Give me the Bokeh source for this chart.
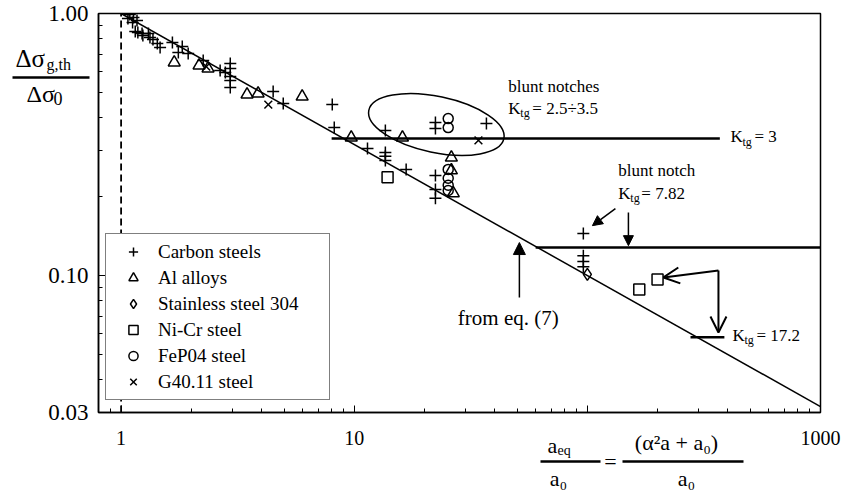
import math
from bokeh.plotting import figure
from bokeh.models import (Range1d, FixedTicker, NumeralTickFormatter, Legend, LegendItem,
                          Arrow, NormalHead, OpenHead, Label)
from bokeh.core.properties import value
from bokeh.embed import file_html
from bokeh.resources import INLINE

# ---------------- data ----------------
carbon_x = [1.09, 1.13, 1.07, 1.17, 1.12, 1.15, 1.18, 1.23, 1.24, 1.31, 1.33, 1.37, 1.43, 1.47,
            1.66, 1.83, 1.76, 1.94, 2.25, 2.66, 2.80, 2.94, 2.94, 2.94, 2.94, 2.94, 4.49, 4.96,
            8.05, 8.21, 11.4, 13.6, 13.6, 13.6, 13.6, 16.7, 22.3, 22.3, 36.9, 22.3, 22.3, 22.3,
            96.1, 96.1, 96.1, 96.1]
carbon_y = [0.991, 0.965, 0.957, 0.940, 0.924, 0.854, 0.846, 0.839, 0.824, 0.839, 0.810, 0.796,
            0.768, 0.742, 0.775, 0.748, 0.710, 0.704, 0.662, 0.606, 0.596, 0.645, 0.617, 0.575,
            0.555, 0.522, 0.504, 0.453, 0.449, 0.367, 0.305, 0.358, 0.295, 0.285, 0.275, 0.254,
            0.384, 0.364, 0.380, 0.241, 0.213, 0.197, 0.1446, 0.119, 0.113, 0.108]

al_x = [1.69, 2.16, 2.36, 3.47, 3.87, 5.98, 9.71, 16.1, 26.1, 26.1, 26.6]
al_y = [0.650, 0.633, 0.617, 0.491, 0.495, 0.482, 0.336, 0.336, 0.282, 0.252, 0.206]

ss304_x = [100.0]
ss304_y = [0.101]

nicr_x = [13.9, 167.0, 200.0]
nicr_y = [0.237, 0.0884, 0.0965]

fep04_x = [25.3, 25.3, 25.3, 25.3, 25.3, 25.3]
fep04_y = [0.397, 0.367, 0.254, 0.235, 0.221, 0.211]

g40_x = [2.32, 4.28, 34.1]
g40_y = [0.627, 0.449, 0.328]

# eq. (7) curve end points (straight line on log-log axes)
eq7_x = [1.0, 1000.0]
eq7_y = [1.0, 0.0316]

# a_eq/a0 = 1 reference line
ref1_x = [1.0, 1.0]
ref1_y = [0.03, 1.0]

# blunt notch levels 1/K_tg
kt3_x = [8.0, 370.0]
kt3_y = [0.333, 0.333]
kt782_x = [60.0, 1000.0]
kt782_y = [0.128, 0.128]
kt172_x = [277.0, 387.0]
kt172_y = [0.0581, 0.0581]

# ellipse around the blunt notches group
notch_cx = [22.5]
notch_cy = [0.377]

x_major_ticks = [1, 10, 100, 1000]
x_minor_ticks = [0.9, 2, 3, 4, 5, 6, 7, 8, 9, 20, 30, 40, 50, 60, 70, 80, 90,
                 200, 300, 400, 500, 600, 700, 800, 900]
y_major_ticks = [0.03, 0.1, 1.0]
y_minor_ticks = [0.04, 0.05, 0.06, 0.07, 0.08, 0.09, 0.2, 0.3, 0.4, 0.5, 0.6, 0.7, 0.8, 0.9]

FONT = "Liberation Serif"
X0, X1, Y0, Y1 = 0.8, 1000.0, 0.03, 1.0
L, R, T, B = 98, 820, 13, 412   # frame edges in page pixels


# page pixel -> data position, used only to place the annotation texts
def px_x(cx):
    return 10 ** (math.log10(X0) + (cx - L) / (R - L) * (math.log10(X1) - math.log10(X0)))


def px_y(cy):
    return 10 ** (math.log10(Y1) - (cy - T) / (B - T) * (math.log10(Y1) - math.log10(Y0)))


p = figure(width=846, height=490, x_axis_type="log", y_axis_type="log",
           x_range=Range1d(X0, X1), y_range=Range1d(Y0, Y1),
           output_backend="svg", toolbar_location=None,
           min_border_left=L, min_border_right=846 - R, min_border_top=T,
           min_border_bottom=490 - B)
p.grid.visible = False
p.outline_line_color = "black"
p.outline_line_width = 1.5
p.background_fill_color = "white"
p.border_fill_color = "white"

for ax in (p.xaxis[0], p.yaxis[0]):
    ax.axis_line_color = "black"
    ax.axis_line_width = 1.5
    ax.major_tick_line_color = "black"
    ax.minor_tick_line_color = "black"
    ax.major_tick_in = 7
    ax.major_tick_out = 0
    ax.minor_tick_in = 4
    ax.minor_tick_out = 0
    ax.major_label_text_font = FONT
    ax.major_label_text_color = "black"

xa = p.xaxis[0]
xa.ticker = FixedTicker(ticks=x_major_ticks, minor_ticks=x_minor_ticks)
xa.formatter = NumeralTickFormatter(format="0")
xa.major_label_overrides = {100: " "}
xa.major_label_standoff = 14
xa.major_label_text_font_size = "20px"

ya = p.yaxis[0]
ya.ticker = FixedTicker(ticks=y_major_ticks, minor_ticks=y_minor_ticks)
ya.formatter = NumeralTickFormatter(format="0.00")
ya.major_label_standoff = 10
ya.major_label_text_font_size = "23px"

# reference lines
p.line(ref1_x, ref1_y, line_color="black", line_width=1.8, line_dash="7 4")
p.line(eq7_x, eq7_y, line_color="black", line_width=1.5)
p.line(kt3_x, kt3_y, line_color="black", line_width=2.5)
p.line(kt782_x, kt782_y, line_color="black", line_width=2.5)
p.line(kt172_x, kt172_y, line_color="black", line_width=2.5)

p.ellipse(x=notch_cx, y=notch_cy, width=138, height=56, angle=-0.207,
          width_units="screen", height_units="screen",
          fill_color=None, line_color="black", line_width=1.5)

mk = dict(fill_color=None, line_color="black", line_width=1.5)
r_c = p.scatter(carbon_x, carbon_y, marker="cross", size=12, **mk)
r_a = p.scatter(al_x, al_y, marker="triangle", size=12, **mk)
r_s = p.scatter(ss304_x, ss304_y, marker="diamond", size=12, **mk)
r_n = p.scatter(nicr_x, nicr_y, marker="square", size=11, **mk)
r_f = p.scatter(fep04_x, fep04_y, marker="circle", size=10, **mk)
r_g = p.scatter(g40_x, g40_y, marker="x", size=11, **mk)

legend = Legend(items=[LegendItem(label="Carbon steels", renderers=[r_c]),
                       LegendItem(label="Al alloys", renderers=[r_a]),
                       LegendItem(label="Stainless steel 304", renderers=[r_s]),
                       LegendItem(label="Ni-Cr steel", renderers=[r_n]),
                       LegendItem(label="FeP04 steel", renderers=[r_f]),
                       LegendItem(label="G40.11 steel", renderers=[r_g])],
                location=(7, 12), label_text_font=FONT, label_text_font_size="19px",
                label_text_color="black",
                glyph_width=42, glyph_height=23, label_height=23, label_standoff=4,
                spacing=3, padding=6, label_width=165, margin=0,
                border_line_color="black", border_line_width=1.2,
                background_fill_color="white", background_fill_alpha=1.0)
p.add_layout(legend)

# arrows
head_fill = dict(fill_color="black", line_color="black")
p.add_layout(Arrow(end=NormalHead(size=12, **head_fill), x_start=51.1, y_start=0.0824,
                   x_end=51.1, y_end=0.1336, line_width=1.5))
p.add_layout(Arrow(end=NormalHead(size=10, **head_fill), x_start=150.0, y_start=0.174,
                   x_end=150.0, y_end=0.130, line_width=1.5))
p.add_layout(Arrow(end=NormalHead(size=10, **head_fill), x_start=131.9, y_start=0.180,
                   x_end=105.1, y_end=0.155, line_width=1.5))
p.add_layout(Arrow(end=OpenHead(size=16, line_width=2), x_start=365.0, y_start=0.1045,
                   x_end=212.0, y_end=0.0983, line_width=2))
p.add_layout(Arrow(end=OpenHead(size=16, line_width=2), x_start=365.0, y_start=0.1045,
                   x_end=365.0, y_end=0.0606, line_width=2))


def lab(text, x, y, size, align="left", xo=0, yo=0):
    p.add_layout(Label(text=text, x=x, y=y, x_offset=xo, y_offset=yo,
                       text_font=FONT, text_font_size=f"{size}px", text_color="black",
                       text_align=align, text_baseline="middle"))


def ktg(x, y, rest, xo_rest=24):
    lab("K", x, y, 17)
    lab("tg", x, y, 12, xo=12, yo=-5)
    lab(rest, x, y, 17, xo=xo_rest)


lab("blunt notches", 45.8, 0.526, 17)
ktg(45.8, 0.434, "= 2.5\u00f73.5")
ktg(411.0, 0.339, "= 3")
lab("blunt notch", 135.8, 0.252, 17)
ktg(135.8, 0.2056, "= 7.82", xo_rest=23)
lab("from eq. (7)", 45.8, 0.0691, 21, align="center")
ktg(419.0, 0.0591, "= 17.2")


# texts outside the frame: text glyphs drawn on the overlay level
def otext(text, cx, cy, size, align="left"):
    p.text(x=[px_x(cx)], y=[px_y(cy)], text=[text], text_font=value(FONT),
           text_font_size=value(f"{size}px"), text_color="black",
           text_align=align, text_baseline="middle", level="overlay")


def oline(cx0, cx1, cy):
    p.segment(x0=[px_x(cx0)], y0=[px_y(cy)], x1=[px_x(cx1)], y1=[px_y(cy)],
              line_color="black", line_width=2.5, level="overlay")


# y-axis title
otext("\u0394\u03c3", 15, 58, 25)
otext("g,th", 46, 64, 16)
oline(12, 89, 77)
otext("\u0394\u03c3", 26, 93, 24)
otext("0", 53, 98, 18)

# x-axis title
otext("a", 547, 445, 22)
otext("eq", 557, 450, 14)
oline(540, 600, 461)
otext("a\u2080", 558, 478, 22, align="center")
otext("=", 610, 461, 22, align="center")
otext("(\u03b1\u00b2a + a\u2080)", 676, 442, 22, align="center")
oline(622, 743, 461)
otext("a\u2080", 686, 478, 22, align="center")

open("out.html", "w").write(file_html(p, INLINE))
